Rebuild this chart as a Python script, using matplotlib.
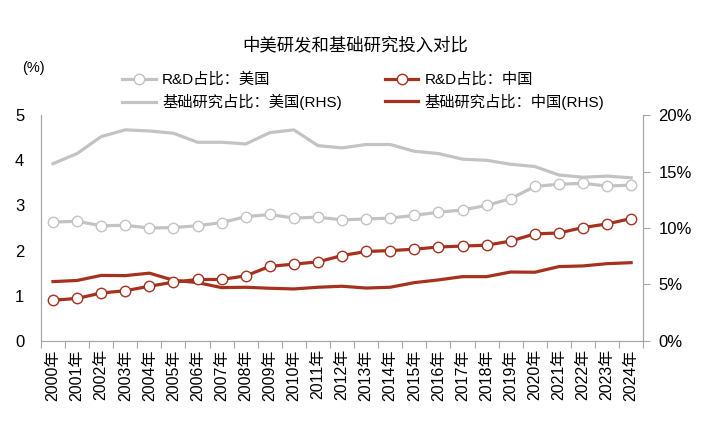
import numpy as np
import matplotlib
matplotlib.use("Agg")
import matplotlib.pyplot as plt
from matplotlib.ticker import FuncFormatter, MultipleLocator

plt.rcParams['font.family'] = ['Liberation Sans', 'Noto Sans CJK SC', 'DejaVu Sans']

# datos
anios = [str(a) + "年" for a in range(2000, 2025)]
rd_usa = [2.63, 2.65, 2.55, 2.56, 2.50, 2.51, 2.55, 2.62, 2.75, 2.80,
          2.72, 2.74, 2.68, 2.70, 2.72, 2.78, 2.85, 2.90, 3.00, 3.15,
          3.42, 3.47, 3.49, 3.43, 3.45]
rd_china = [0.90, 0.94, 1.06, 1.11, 1.21, 1.30, 1.36, 1.36, 1.44, 1.65,
            1.70, 1.75, 1.89, 1.98, 2.00, 2.03, 2.08, 2.10, 2.12, 2.21,
            2.37, 2.39, 2.51, 2.59, 2.71]
basica_usa = [15.7, 16.6, 18.1, 18.7, 18.6, 18.4, 17.6, 17.6, 17.45, 18.45,
              18.7, 17.3, 17.1, 17.4, 17.4, 16.8, 16.6, 16.1, 16.0, 15.65,
              15.45, 14.7, 14.5, 14.6, 14.45]
basica_china = [5.25, 5.35, 5.8, 5.78, 6.0, 5.37, 5.16, 4.72, 4.75, 4.66,
                4.6, 4.75, 4.84, 4.68, 4.75, 5.16, 5.4, 5.69, 5.69, 6.1,
                6.08, 6.58, 6.64, 6.84, 6.93]

gris = '#C3C3C3'
rojo = '#A5321E'
eje = '#A6A6A6'

fig = plt.figure(figsize=(7.06, 4.25), dpi=100)
ax = fig.add_axes([0.058, 0.198, 0.853, 0.531])
ax2 = ax.twinx()

x = np.arange(len(anios))

# lineas eje derecho (detras)
l3, = ax2.plot(x, basica_usa, color=gris, lw=2.3, label='基础研究占比：美国(RHS)', zorder=2)
l4, = ax2.plot(x, basica_china, color=rojo, lw=2.3, label='基础研究占比：中国(RHS)', zorder=2)

# lineas eje izquierdo con marcadores
ax.set_zorder(ax2.get_zorder() + 1)
ax.patch.set_visible(False)
l1, = ax.plot(x, rd_usa, color=gris, lw=2.3, marker='o', ms=7.5,
              mfc='white', mec=gris, mew=1.0, label='R&D占比：美国')
l2, = ax.plot(x, rd_china, color=rojo, lw=2.3, marker='o', ms=7.5,
              mfc='white', mec=rojo, mew=1.0, label='R&D占比：中国')

ax.set_xlim(-0.5, len(anios) - 0.5)
ax.set_ylim(0, 5)
ax2.set_ylim(0, 20)
ax.yaxis.set_major_locator(MultipleLocator(1))
ax2.yaxis.set_major_locator(MultipleLocator(5))
ax2.yaxis.set_major_formatter(FuncFormatter(lambda v, p: '{:.0f}%'.format(v)))

# ticks
ax.set_xticks(x)
ax.set_xticklabels(anios, rotation=90, fontsize=11.5)
ax.set_xticks(np.arange(-0.5, len(anios), 1), minor=True)
ax.tick_params(axis='x', which='major', length=0, pad=6)
ax.tick_params(axis='x', which='minor', length=5, color=eje, width=0.8)
ax.tick_params(axis='y', length=0, labelsize=12, pad=12)
ax2.tick_params(axis='y', length=5, color=eje, width=0.8, labelsize=12, pad=6)

for a in (ax, ax2):
    a.spines['top'].set_visible(False)
    for s in ('left', 'right', 'bottom'):
        a.spines[s].set_color(eje)
        a.spines[s].set_linewidth(0.8)

# titulo y unidades
fig.text(0.503, 0.894, '中美研发和基础研究投入对比', ha='center', va='center', fontsize=12.5)
fig.text(0.047, 0.840, '(%)', ha='center', va='center', fontsize=10.5)

# leyenda: fila 1 R&D, fila 2 investigacion basica
ax.legend(handles=[l1, l3, l2, l4], ncol=2, loc='upper left', bbox_to_anchor=(0.154, 0.862),
          bbox_transform=fig.transFigure, frameon=False, fontsize=11,
          handlelength=2.2, handletextpad=0.4, columnspacing=2.8, labelspacing=0.45)

fig.savefig('out.png', dpi=100, facecolor='white')
